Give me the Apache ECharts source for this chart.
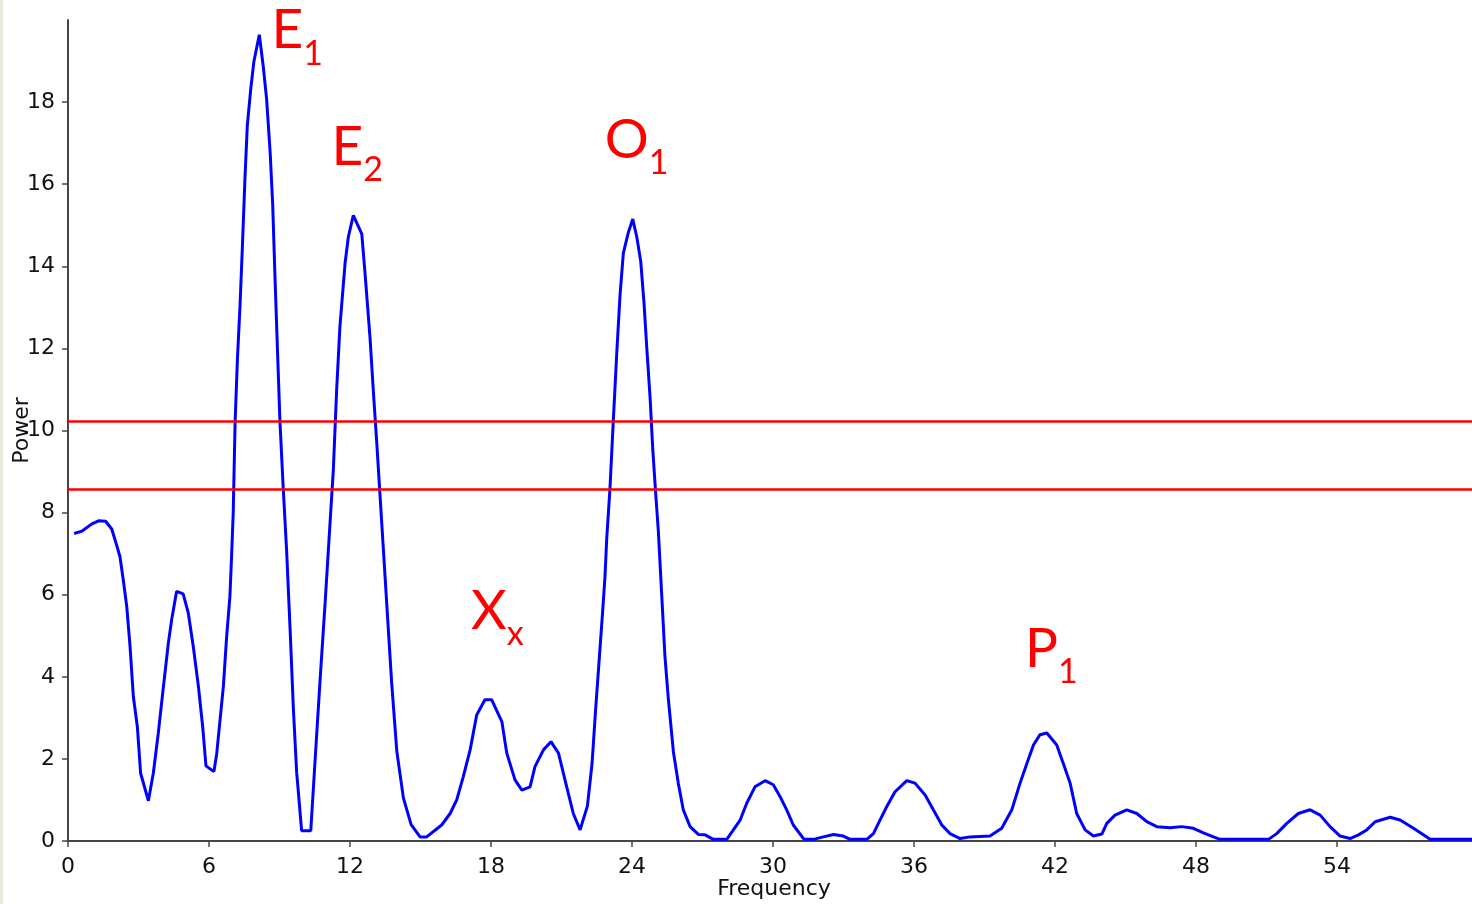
<!DOCTYPE html>
<html>
<head>
<meta charset="utf-8">
<script src="https://cdn.jsdelivr.net/npm/echarts@6/dist/echarts.min.js"></script>
<style>
  html, body { margin: 0; padding: 0; background: #ffffff; }
  #chart { width: 1472px; height: 904px; }
</style>
</head>
<body>
<div id="chart"></div>
<script>
// Periodogram: spectral power against frequency
const frequency = [
  0.26, 0.6, 1.0, 1.3, 1.6, 1.86, 2.0, 2.21, 2.35, 2.5, 2.64, 2.78, 2.95, 3.09, 3.42, 3.63, 3.84, 4.06, 4.27, 4.41,
  4.62, 4.9, 5.12, 5.33, 5.55, 5.73, 5.87, 6.21, 6.33, 6.47, 6.61, 6.75, 6.89, 6.96, 7.03, 7.11, 7.21, 7.32, 7.42, 7.53,
  7.63, 7.78, 7.91, 8.14, 8.31, 8.45, 8.6, 8.71, 8.81, 8.91, 9.02, 9.16, 9.3, 9.45, 9.59, 9.73, 9.94, 10.33, 10.51, 10.72,
  10.94, 11.15, 11.29, 11.43, 11.57, 11.79, 11.93, 12.14, 12.5, 12.64, 12.85, 12.99, 13.14, 13.28, 13.42, 13.56, 13.77, 13.99, 14.27, 14.6,
  14.98, 15.26, 15.9, 16.26, 16.54, 16.82, 17.11, 17.39, 17.74, 18.03, 18.46, 18.67, 19.02, 19.31, 19.66, 19.87, 20.23, 20.55, 20.87, 21.22,
  21.5, 21.79, 22.1, 22.3, 22.45, 22.6, 22.75, 22.85, 22.92, 23.06, 23.2, 23.35, 23.49, 23.63, 23.84, 24.03, 24.2, 24.37, 24.51, 24.63,
  24.77, 24.88, 25.02, 25.12, 25.26, 25.4, 25.54, 25.76, 25.97, 26.18, 26.47, 26.82, 27.11, 27.46, 28.03, 28.31, 28.6, 28.88, 29.23, 29.66,
  30.01, 30.3, 30.58, 30.86, 31.32, 31.72, 32.14, 32.57, 32.99, 33.28, 33.99, 34.27, 34.55, 34.84, 35.19, 35.69, 36.04, 36.47, 36.82, 37.18,
  37.53, 37.96, 38.38, 39.23, 39.73, 40.16, 40.51, 40.8, 41.08, 41.36, 41.65, 42.07, 42.35, 42.64, 42.92, 43.28, 43.63, 43.99, 44.2, 44.55,
  45.05, 45.48, 45.9, 46.33, 46.89, 47.39, 47.89, 48.31, 48.74, 49.02, 51.08, 51.43, 51.86, 52.35, 52.85, 53.28, 53.7, 54.13, 54.55, 54.91,
  55.26, 55.62, 56.26, 56.68, 57.25, 57.96, 59.74
];
const power = [
  7.49, 7.55, 7.72, 7.80, 7.79, 7.60, 7.34, 6.93, 6.37, 5.71, 4.74, 3.52, 2.79, 1.65, 0.98, 1.65, 2.62, 3.76, 4.82, 5.39,
  6.08, 6.02, 5.55, 4.74, 3.76, 2.79, 1.83, 1.69, 2.14, 2.95, 3.76, 4.98, 5.96, 6.93, 7.99, 10.2, 11.75, 13.05, 14.47, 16.15,
  17.44, 18.34, 18.99, 19.64, 18.86, 18.08, 16.79, 15.5, 13.69, 12.01, 10.2, 8.57, 7.1, 5.16, 3.22, 1.67, 0.25, 0.25, 1.93, 3.87,
  5.8, 7.75, 9.04, 10.98, 12.53, 14.08, 14.72, 15.24, 14.79, 13.82, 12.27, 10.98, 9.68, 8.39, 7.1, 5.8, 3.87, 2.19, 1.05, 0.4,
  0.1, 0.1, 0.39, 0.67, 1.0, 1.57, 2.22, 3.07, 3.44, 3.44, 2.91, 2.14, 1.49, 1.24, 1.32, 1.81, 2.22, 2.42, 2.14, 1.32,
  0.67, 0.27, 0.85, 1.9, 3.2, 4.4, 5.6, 6.45, 7.34, 8.58, 10.21, 11.89, 13.31, 14.32, 14.82, 15.15, 14.72, 14.12, 13.1, 11.99,
  10.78, 9.56, 8.35, 7.54, 6.02, 4.5, 3.49, 2.17, 1.4, 0.76, 0.35, 0.16, 0.15, 0.04, 0.04, 0.27, 0.51, 0.92, 1.32, 1.47,
  1.37, 1.08, 0.76, 0.39, 0.04, 0.04, 0.1, 0.16, 0.12, 0.04, 0.04, 0.18, 0.51, 0.84, 1.2, 1.47, 1.41, 1.12, 0.76, 0.39,
  0.18, 0.06, 0.1, 0.12, 0.31, 0.76, 1.41, 1.89, 2.34, 2.59, 2.63, 2.34, 1.89, 1.41, 0.67, 0.27, 0.12, 0.17, 0.43, 0.63,
  0.76, 0.67, 0.47, 0.35, 0.32, 0.35, 0.31, 0.2, 0.1, 0.04, 0.04, 0.18, 0.43, 0.67, 0.76, 0.63, 0.35, 0.12, 0.06, 0.15,
  0.27, 0.47, 0.58, 0.51, 0.31, 0.04, 0.04
];

// Axis ticks and titles
const xTicks = [0, 6, 12, 18, 24, 30, 36, 42, 48, 54];
const yTicks = [0, 2, 4, 6, 8, 10, 12, 14, 16, 18];
const xMax = 59.74;
const yMax = 20;
const xTitle = 'Frequency';
const yTitle = 'Power';

// Significance thresholds
const thresholds = [10.22, 8.56];

// Peak names (letter + subscript), anchored in data coordinates
const peakLetters = ['E', 'E', 'O', 'X', 'P'];
const peakSubs = ['1', '2', '1', 'x', '1'];
const peakFreq = [8.66, 11.21, 22.84, 17.15, 40.72];
const peakPower = [19.74, 16.9, 17.07, 5.59, 4.68];

const chart = echarts.init(document.getElementById('chart'), null, { renderer: 'canvas' });

const axisColor = '#454545';
const labelFont = 'DejaVu Sans';

chart.setOption({
  animation: false,
  backgroundColor: '#ffffff',
  grid: { left: 68, right: 0, top: 20, bottom: 63, containLabel: false, outerBoundsMode: 'none' },
  xAxis: {
    type: 'value',
    min: 0,
    max: xMax,
    interval: 6,
    axisLine: { show: true, lineStyle: { color: axisColor, width: 2 } },
    axisTick: { show: true, length: 6, customValues: xTicks, lineStyle: { color: axisColor, width: 1.5 } },
    axisLabel: { customValues: xTicks, margin: 15, fontFamily: labelFont, fontSize: 22, color: '#111' },
    splitLine: { show: false }
  },
  yAxis: {
    type: 'value',
    min: 0,
    max: yMax,
    interval: 2,
    axisLine: { show: true, lineStyle: { color: axisColor, width: 2 } },
    axisTick: { show: true, length: 6, customValues: yTicks, lineStyle: { color: axisColor, width: 1.5 } },
    axisLabel: { customValues: yTicks, margin: 13, fontFamily: labelFont, fontSize: 22, color: '#111' },
    splitLine: { show: false }
  },
  series: [{
    type: 'line',
    data: frequency.map((f, i) => [f, power[i]]),
    showSymbol: false,
    smooth: false,
    lineStyle: { color: '#0000ff', width: 3 },
    z: 3,
    markLine: {
      silent: true,
      symbol: ['none', 'none'],
      label: { show: false },
      lineStyle: { color: '#ff0000', width: 2.5, type: 'solid' },
      data: thresholds.map(v => ({ yAxis: v }))
    }
  }]
});

// Axis titles, placed from the plot corners
const origin = chart.convertToPixel({ gridIndex: 0 }, [0, 0]);
const corner = chart.convertToPixel({ gridIndex: 0 }, [xMax, yMax]);
const titleStyle = { fill: '#111', font: '22px "' + labelFont + '"', align: 'center', verticalAlign: 'middle' };

const graphics = [
  { type: 'rect', left: 0, top: 0, shape: { width: 3, height: 904 }, style: { fill: '#ebe8da' }, silent: true },
  { type: 'text', x: (origin[0] + corner[0]) / 2 + 4, y: origin[1] + 48, silent: true,
    style: Object.assign({ text: xTitle }, titleStyle) },
  { type: 'text', x: origin[0] - 46, y: (origin[1] + corner[1]) / 2, rotation: Math.PI / 2, silent: true,
    style: Object.assign({ text: yTitle }, titleStyle) }
];

// Peak names drawn as red letters with a lowered, smaller subscript
const mainSize = 55;
const subSize = 34;
const nameFont = 'Lato';
const ctx = document.createElement('canvas').getContext('2d');
ctx.font = mainSize + 'px ' + nameFont;

peakLetters.forEach((letter, i) => {
  const pt = chart.convertToPixel({ gridIndex: 0 }, [peakFreq[i], peakPower[i]]);
  const w = ctx.measureText(letter).width;
  graphics.push({
    type: 'text', x: pt[0], y: pt[1], silent: true,
    style: { text: letter, fill: '#ff0000', font: mainSize + 'px ' + nameFont, align: 'left', verticalAlign: 'middle' }
  });
  graphics.push({
    type: 'text', x: pt[0] + w, y: pt[1] + 23, silent: true,
    style: { text: peakSubs[i], fill: '#ff0000', font: subSize + 'px ' + nameFont, align: 'left', verticalAlign: 'middle' }
  });
});
chart.setOption({ graphic: graphics });
</script>
</body>
</html>
